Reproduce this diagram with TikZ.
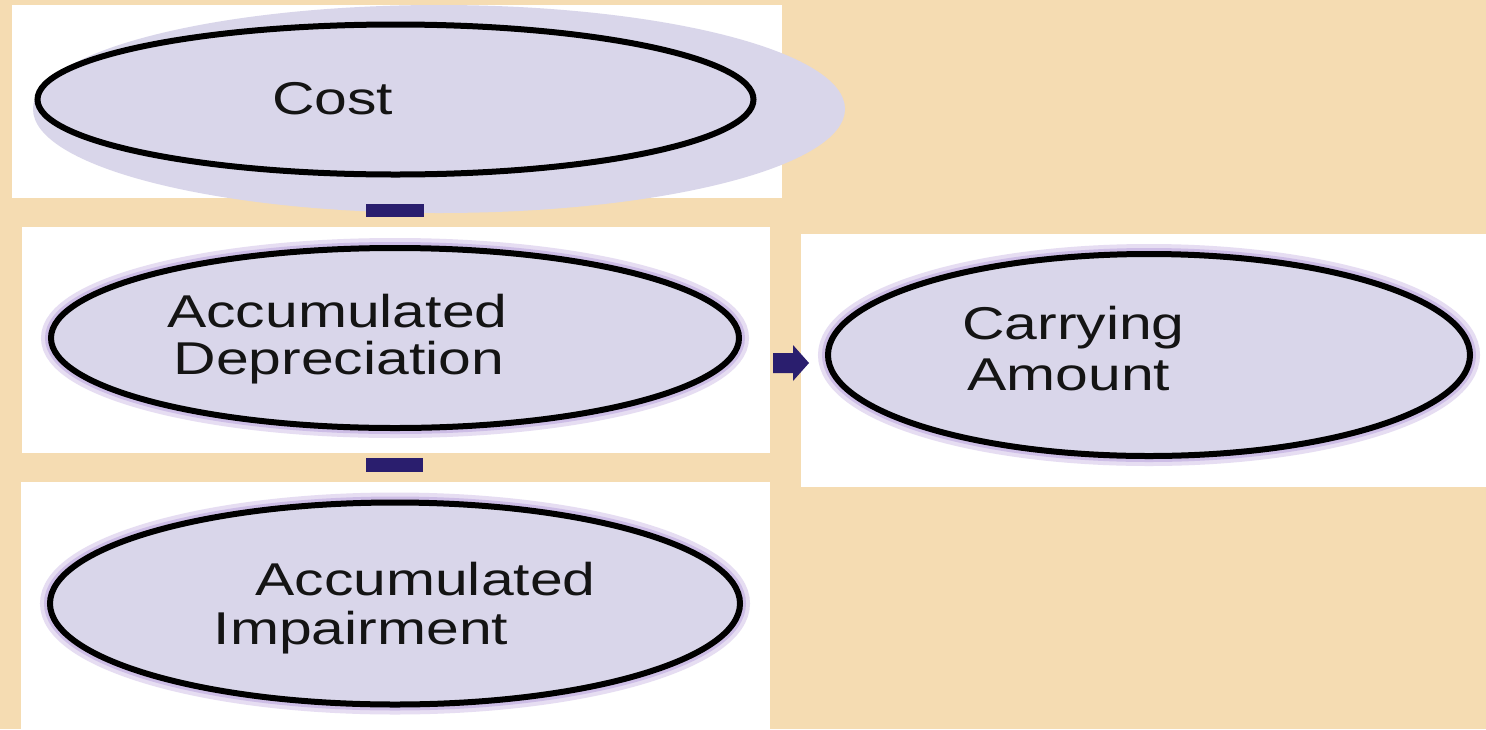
\documentclass[tikz,border=0pt]{standalone}
\usepackage{fontspec}
\setmainfont{Liberation Sans}
\usetikzlibrary{shapes.geometric}
\definecolor{bgtan}{HTML}{F5DCB2}
\definecolor{lav}{HTML}{D9D6EA}
\definecolor{glow1}{HTML}{E6DDF2}
\definecolor{glow2}{HTML}{CDBDE6}
\definecolor{navy}{HTML}{2A1E6E}
\definecolor{ink}{HTML}{141414}
\newcommand{\wtxt}[1]{\scalebox{1.28}[1]{\begin{tabular}[t]{@{}l@{}}#1\end{tabular}}}
\tikzset{
  panel/.style={fill=white, draw=none},
  oval/.style={ellipse, inner sep=0pt, draw=black, line width=6pt, fill=lav,
    preaction={draw=glow1, line width=20pt},
    preaction={draw=glow2, line width=12pt}},
  lbl/.style={inner sep=0pt, anchor=base west, text=ink,
    font=\fontsize{46}{46}\selectfont},
  minus/.style={fill=navy, draw=none}
}
\begin{document}
\begin{tikzpicture}[x=1pt,y=-1pt]
\useasboundingbox (0,0) rectangle (1486,729);
\fill[bgtan] (0,0) rectangle (1486,729);
% white panels
\fill[panel] (12,5) rectangle (782,198);
\fill[panel] (22,227) rectangle (770,453);
\fill[panel] (21,482) rectangle (770,729);
\fill[panel] (801,234) rectangle (1486,487);
% lavender backdrop behind Cost
\fill[lav] (439,109) ellipse [x radius=406, y radius=104];
% ovals
\node[ellipse, inner sep=0pt, draw=black, line width=6pt, fill=lav, minimum width=716pt, minimum height=150pt] (cost) at (395.5,99.5) {};
\node[oval, minimum width=688pt, minimum height=180pt] (dep) at (395,338) {};
\node[oval, minimum width=690pt, minimum height=202pt] (imp) at (395,603.5) {};
\node[oval, minimum width=642pt, minimum height=202pt] (carry) at (1149,355) {};
% labels
\node[lbl] (tcost) at (272,114) {\wtxt{Cost}};
\node[lbl] (tdep) at (167,327) {\wtxt{Accumulated\\\hspace*{5pt}Depreciation}};
\node[lbl] (timp) at (213.5,595) {\wtxt{\hspace*{32.5pt}Accumulated\\[2pt]Impairment}};
\node[lbl] (tcarry) at (962,339) {\wtxt{Carrying\\[5pt]\hspace*{4pt}Amount}};
% operators
\fill[minus] (366,204) rectangle (424,217);
\fill[minus] (366,458) rectangle (423,472);
\fill[navy] (773,353) -- (793,353) -- (793,345) -- (809,363) -- (793,381) -- (793,373) -- (773,373) -- cycle;
\end{tikzpicture}
\end{document}
